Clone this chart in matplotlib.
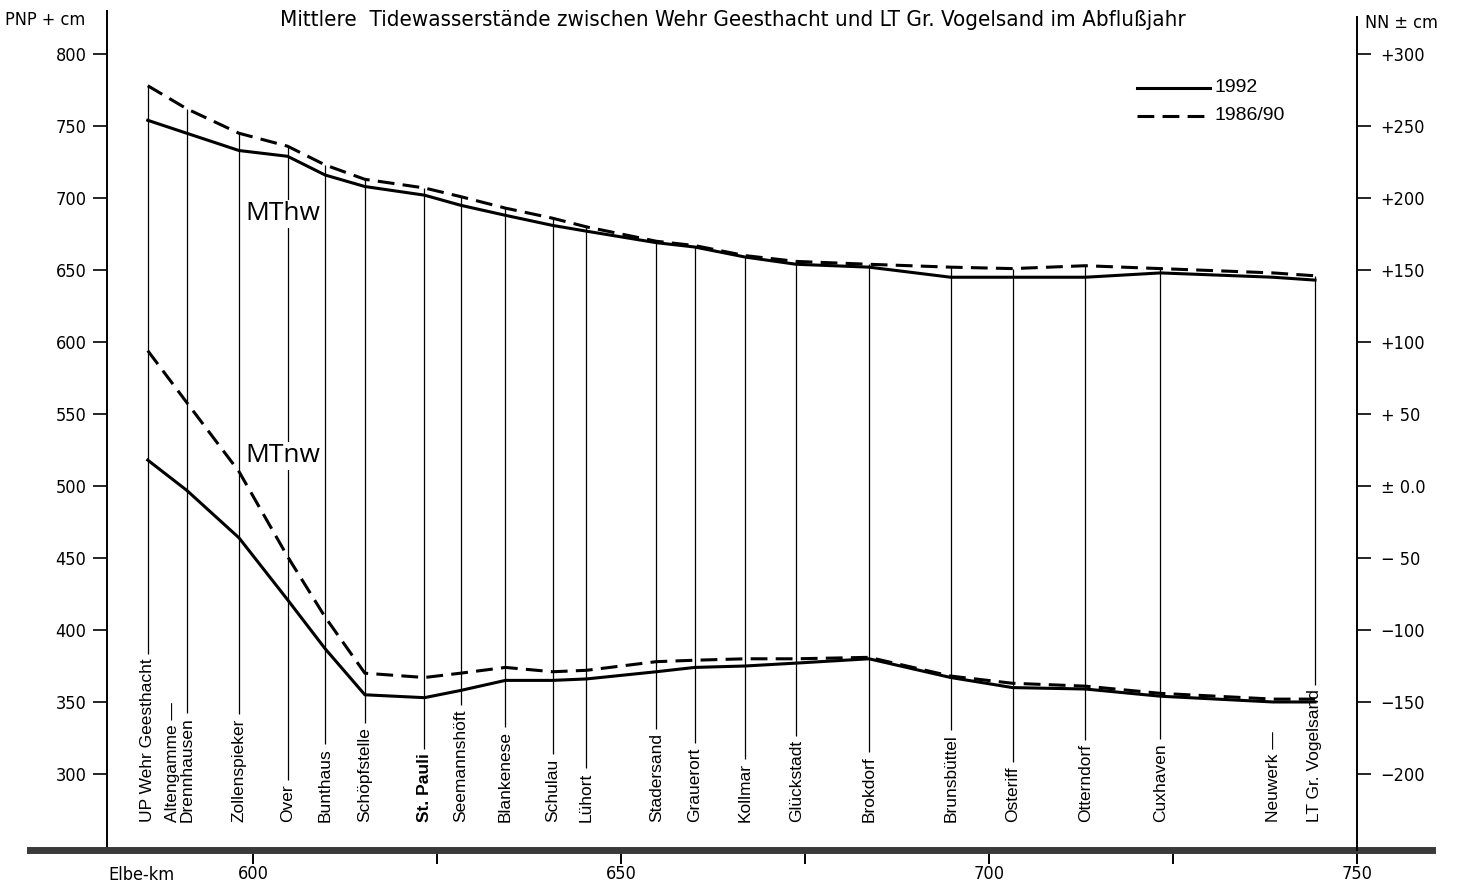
import matplotlib
matplotlib.use("Agg")
import matplotlib.pyplot as plt
from matplotlib import font_manager

# Stationen entlang der Elbe (Elbe-km) und mittlere Tidewasserstaende (PNP + cm)
stationen = ["UP Wehr Geesthacht", "Drennhausen", "Zollenspieker", "Over", "Bunthaus",
             "Schöpfstelle", "St. Pauli", "Seemannshöft", "Blankenese", "Schulau",
             "Lühort", "Stadersand", "Grauerort", "Kollmar", "Glückstadt", "Brokdorf",
             "Brunsbüttel", "Osteriff", "Otterndorf", "Cuxhaven", "Neuwerk —",
             "LT Gr. Vogelsand"]
km = [585.7, 591.0, 598.1, 604.7, 609.8, 615.2, 623.3, 628.2, 634.3, 640.7, 645.3,
      654.8, 660.0, 666.9, 673.8, 683.7, 694.8, 703.2, 713.1, 723.3, 738.6, 744.3]
mthw_1992 = [754, 745, 733, 729, 716, 708, 702, 695, 688, 681, 677,
             669, 666, 659, 654, 652, 645, 645, 645, 648, 645, 643]
mthw_1986_90 = [778, 762, 745, 736, 723, 713, 707, 701, 693, 686, 680,
                670, 667, 660, 656, 654, 652, 651, 653, 651, 648, 646]
mtnw_1992 = [518, 497, 464, 421, 387, 355, 353, 358, 365, 365, 366,
             371, 374, 375, 377, 380, 367, 360, 359, 354, 350, 350]
mtnw_1986_90 = [594, 558, 510, 451, 409, 370, 367, 370, 374, 371, 372,
                378, 379, 380, 380, 381, 368, 363, 361, 356, 352, 352]
# Neuwerk hat keine eigene Senkrechte
ohne_linie = ["Neuwerk —"]

links_ticks = list(range(300, 801, 50))
rechts_ticks = list(range(300, -201, -50))
rechts_labels = ["+300", "+250", "+200", "+150", "+100", "+ 50", "± 0.0",
                 "− 50", "−100", "−150", "−200"]

installed = {f.name for f in font_manager.fontManager.ttflist}
if "Liberation Sans Narrow" in installed:
    cond = dict(family="Liberation Sans Narrow")
else:
    cond = dict(family="DejaVu Sans", stretch="condensed")
normal = dict(family="Liberation Sans")

W, H = 1459, 892
fig = plt.figure(figsize=(W / 100, H / 100), dpi=100)
ax = fig.add_axes([30 / W, 1 - 850 / H, 1402 / W, 840 / H])

x0, x1 = 569.7, 760.2
y0, y1 = 247.2, 830.6
ax.set_xlim(x0, x1)
ax.set_ylim(y0, y1)

for s in ["top", "right"]:
    ax.spines[s].set_visible(False)
ax.spines["left"].set_position(("data", 580.2))
ax.spines["left"].set_bounds(y0, 830)
ax.spines["left"].set_linewidth(1.4)
ax.spines["bottom"].set_linewidth(5)
ax.spines["bottom"].set_color("#3a3a3a")

ax.set_yticks(links_ticks)
ax.set_xticks([600, 650, 700, 750])
ax.set_xticks([625, 675, 725], minor=True)
ax.tick_params(axis="y", direction="out", length=10, width=1.2, pad=5, labelsize=13)
ax.tick_params(axis="x", which="both", direction="out", length=10, width=1.4, pad=1, labelsize=13)
for lab in ax.get_yticklabels() + ax.get_xticklabels():
    lab.set(**cond)

ax2 = ax.twinx()
ax2.set_ylim(y0 - 500, y1 - 500)
for s in ["top", "left", "bottom"]:
    ax2.spines[s].set_visible(False)
ax2.spines["right"].set_position(("data", 750))
ax2.spines["right"].set_bounds(y0 - 500, 826 - 500)
ax2.spines["right"].set_linewidth(1.4)
ax2.set_yticks(rechts_ticks)
ax2.set_yticklabels(rechts_labels)
ax2.tick_params(axis="y", direction="out", length=10, width=1.2, pad=7, labelsize=13)
for lab in ax2.get_yticklabels():
    lab.set(**cond)

# Kurven
dash = (5.5, 2.7)
ax.plot(km, mthw_1992, color="black", lw=2.2, zorder=4)
ax.plot(km, mthw_1986_90, color="black", lw=2.2, dashes=dash, zorder=4)
ax.plot(km, mtnw_1992, color="black", lw=2.2, zorder=4)
ax.plot(km, mtnw_1986_90, color="black", lw=2.2, dashes=dash, zorder=4)

# Stationsbeschriftungen
y_unten = 800 - (822 - 54) / 1.44
texte = []
for name, k in zip(stationen, km):
    w = "bold" if name == "St. Pauli" else "normal"
    t = ax.text(k, y_unten, name, rotation=90, ha="center", va="bottom",
                fontsize=12.5, fontweight=w, **normal)
    texte.append(t)
ax.text(589.0, y_unten, "Altengamme —", rotation=90, ha="center", va="bottom",
        fontsize=12.5, **normal)

fig.canvas.draw()
inv = ax.transData.inverted()
for name, k, t, top in zip(stationen, km, texte, mthw_1986_90):
    if name in ohne_linie:
        continue
    bb = t.get_window_extent()
    y_text = inv.transform((0, bb.y1))[1] + 3
    ax.vlines(k, y_text, top, color="black", lw=0.9, zorder=2)

box = dict(facecolor="white", edgecolor="none", pad=1)
ax.text(604.1, 689, "MThw", fontsize=19, family="Open Sans", ha="center",
        va="center", bbox=box, zorder=3)
ax.text(604.1, 521, "MTnw", fontsize=19, family="Open Sans", ha="center",
        va="center", bbox=box, zorder=3)

# Legende
ax.plot([720.1, 730.0], [776.5, 776.5], color="black", lw=2.2, clip_on=False)
ax.plot([720.1, 730.0], [757.0, 757.0], color="black", lw=2.2, dashes=dash, clip_on=False)
ax.text(730.7, 776.5, "1992", fontsize=14, va="center", **normal)
ax.text(730.7, 757.0, "1986/90", fontsize=14, va="center", **normal)

# Titel und Achsentexte
fig.text(733 / W, 1 - 20 / H,
         "Mittlere  Tidewasserstände zwischen Wehr Geesthacht und LT Gr. Vogelsand im Abflußjahr",
         ha="center", va="center", fontsize=16, **cond)
fig.text(5 / W, 1 - 20 / H, "PNP + cm", ha="left", va="center", fontsize=13, **cond)
fig.text(1365 / W, 1 - 23 / H, "NN ± cm", ha="left", va="center", fontsize=13, **cond)
fig.text(108 / W, 1 - 875 / H, "Elbe-km", ha="left", va="center", fontsize=13, **cond)

fig.savefig("out.png", dpi=100)
